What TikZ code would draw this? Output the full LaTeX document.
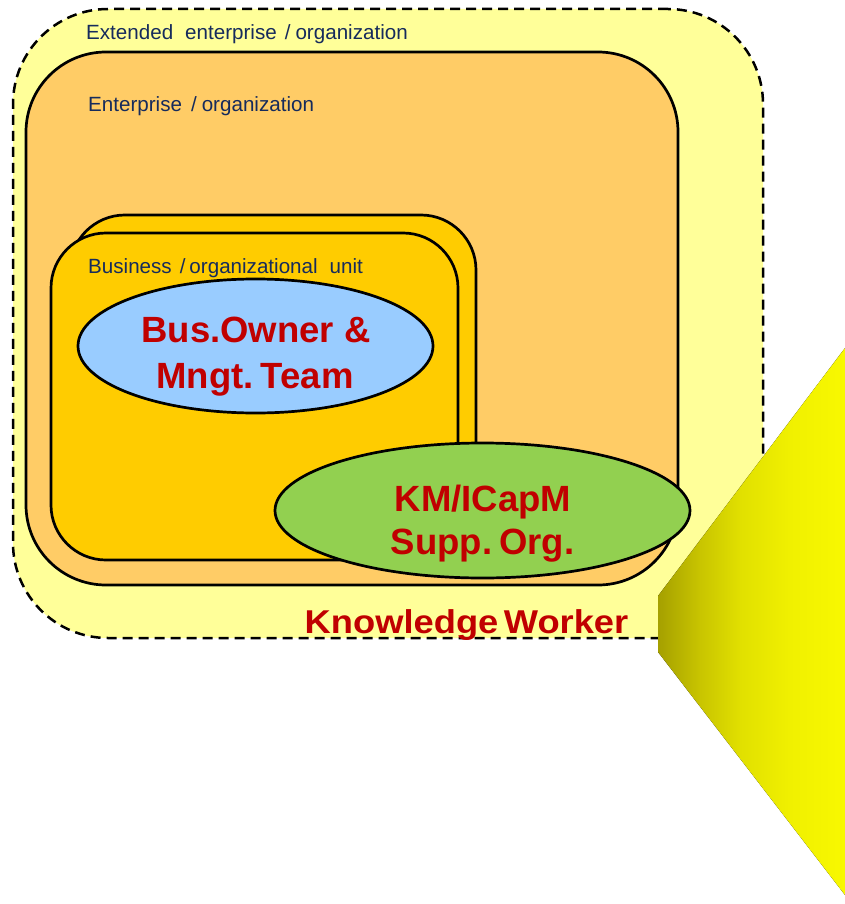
\documentclass[tikz,border=0pt]{standalone}
\usepackage{fontspec}
\usepackage{graphicx}
\setmainfont{Liberation Sans}
\usetikzlibrary{shapes.geometric}

\definecolor{extfill}{HTML}{FFFF99}
\definecolor{entfill}{HTML}{FFCC66}
\definecolor{unitfill}{HTML}{FFCC00}
\definecolor{ownerfill}{HTML}{99CCFF}
\definecolor{kmfill}{HTML}{92D050}
\definecolor{navytext}{RGB}{22,43,92}
\definecolor{redtext}{HTML}{C00000}
\definecolor{beamA}{RGB}{165,160,0}
\definecolor{beamB}{RGB}{200,196,0}
\definecolor{beamC}{RGB}{225,224,0}
\definecolor{beamD}{RGB}{240,240,0}
\definecolor{beamE}{RGB}{248,248,0}

% light beam: dark olive on the left fading to bright yellow
\pgfdeclarehorizontalshading{beamshade}{100bp}{color(0bp)=(beamA); color(25bp)=(beamA);
  color(36bp)=(beamB); color(47bp)=(beamC); color(60bp)=(beamD); color(75bp)=(beamE); color(100bp)=(beamE)}

\begin{document}
\begin{tikzpicture}[x=1pt,y=-1pt,
  box/.style={rectangle, draw=black, line width=2.7pt, inner sep=0pt},
  orgoval/.style={ellipse, draw=black, line width=2.7pt, inner sep=0pt},
  lbl/.style={inner sep=0pt, text=navytext, font=\fontsize{20.6}{24}\selectfont},
  bigred/.style={inner sep=0pt, text=redtext, font=\fontsize{36.5}{44}\selectfont\bfseries}]
\useasboundingbox (0,0) rectangle (845,904);

% nested organisational levels
\node[box, fill=extfill, dash pattern=on 10pt off 6pt, line width=2.5pt, rounded corners=95pt,
      minimum width=750pt, minimum height=629pt] (ext) at (388,323.5) {};
\node[box, fill=entfill, rounded corners=80pt,
      minimum width=652pt, minimum height=533pt] (ent) at (352,318.5) {};
\node[box, fill=unitfill, rounded corners=55pt,
      minimum width=406pt, minimum height=327pt] (unitback) at (273,378.5) {};
\node[box, fill=unitfill, rounded corners=55pt,
      minimum width=407pt, minimum height=327pt] (unit) at (254.5,396.5) {};

% level captions
\node[lbl, anchor=base west] (extlbl) at (86,40)
  {Extended\hspace{12pt}enterprise\hspace{8pt}/\hspace{5pt}organization};
\node[lbl, anchor=base west] (entlbl) at (88,112)
  {Enterprise\hspace{9pt}/\hspace{5pt}organization};
\node[lbl, anchor=base west] (unitlbl) at (88,273)
  {Business\hspace{8pt}/\hspace{4pt}organizational\hspace{12pt}unit};

% roles
\node[orgoval, fill=ownerfill, minimum width=355pt, minimum height=134pt] (owner) at (255.5,346) {};
\node[orgoval, fill=kmfill, minimum width=415pt, minimum height=135pt] (km) at (482.5,510.5) {};

\node[bigred, anchor=base] (owner1) at (256,342.7) {Bus.Owner \&};
\node[bigred, anchor=base] (owner2) at (255,388) {Mngt.\hspace{7pt}Team};
\node[bigred, anchor=base] (km1) at (483,511) {KM/ICapM};
\node[bigred, anchor=base] (km2) at (482.5,554) {Supp.\hspace{7pt}Org.};

\node[inner sep=0pt, text=redtext, font=\fontsize{33}{40}\selectfont\bfseries, anchor=base]
  (worker) at (466.5,633) {\scalebox{1.1}[1]{Knowledge\hspace{5pt}Worker}};

% light beam on the right
\fill[shading=beamshade] (658,596) -- (845,348) -- (845,895) -- (658,652) -- cycle;
\end{tikzpicture}
\end{document}
